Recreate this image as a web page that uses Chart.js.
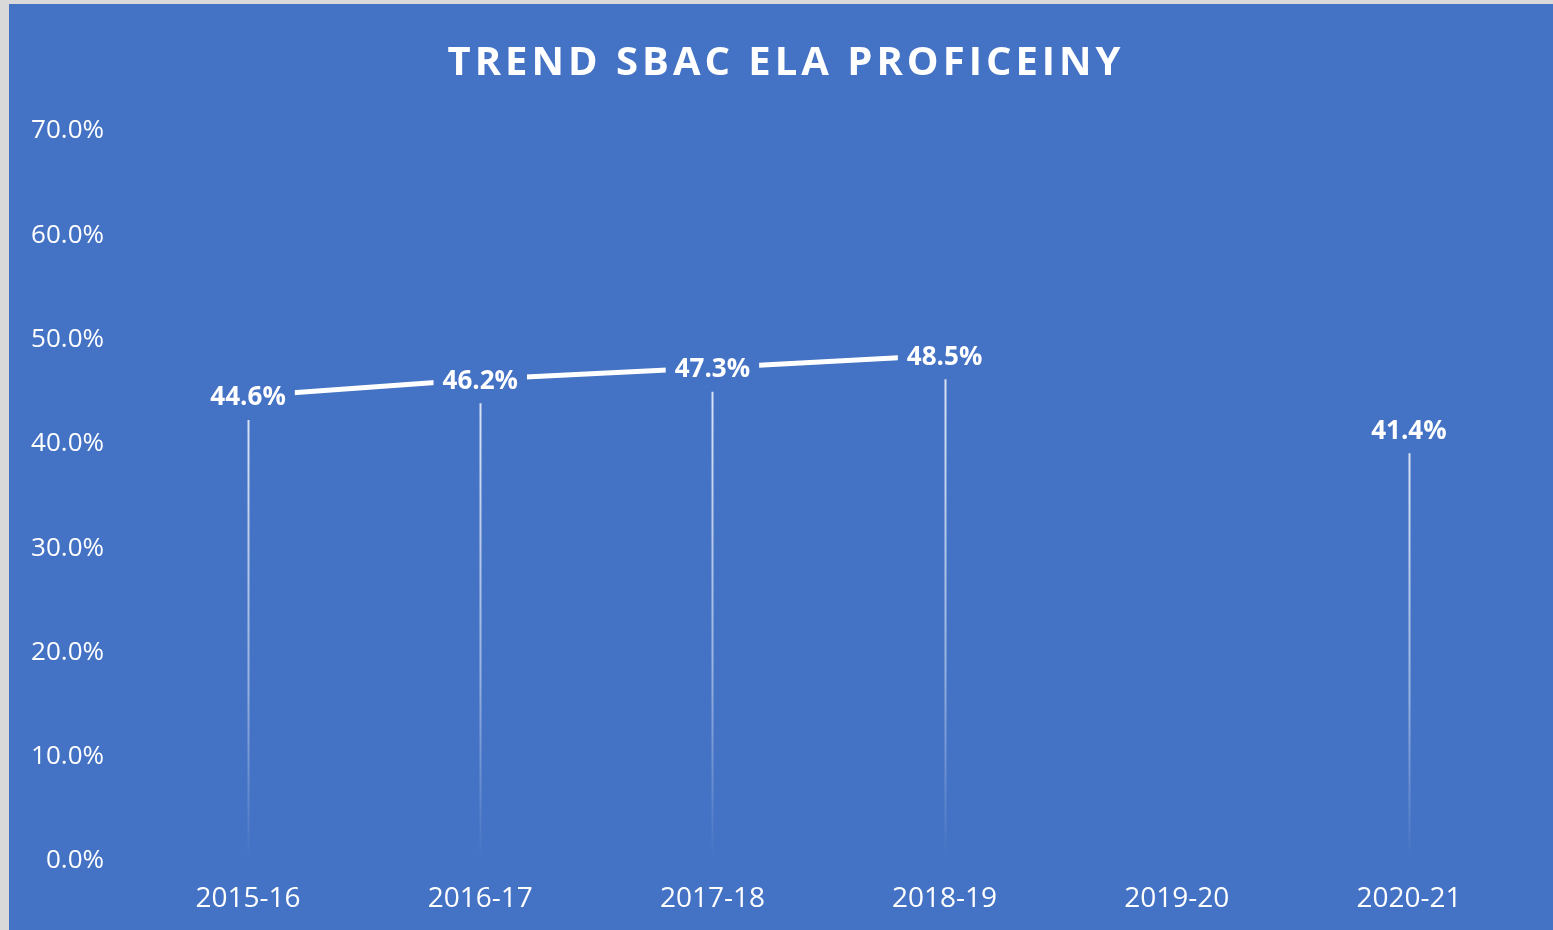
<!DOCTYPE html>
<html>
<head>
<meta charset="utf-8">
<script src="https://cdn.jsdelivr.net/npm/chart.js@4.4.1/dist/chart.umd.min.js"></script>
<style>
  html, body { margin: 0; padding: 0; background: #d9d9d9; width: 1553px; height: 930px; overflow: hidden; }
  #wrap { position: absolute; left: 9px; top: 4px; width: 1544px; height: 926px; background: #4472C4; }
  canvas { display: block; }
</style>
</head>
<body>
<div id="wrap"><canvas id="c" width="1544" height="926"></canvas></div>
<script>
const chartTitle = 'TREND SBAC ELA PROFICEINY';
const categories = ['2015-16', '2016-17', '2017-18', '2018-19', '2019-20', '2020-21'];
const proficiency = [44.6, 46.2, 47.3, 48.5, null, 41.4];
const yTicks = [0, 10, 20, 30, 40, 50, 60, 70];

const BG = '#4472C4';
const FONT = '"Open Sans", "Liberation Sans", sans-serif';

const dropLines = {
  id: 'dropLines',
  beforeDatasetsDraw(chart) {
    const ctx = chart.ctx;
    const meta = chart.getDatasetMeta(0);
    const bottom = chart.scales.y.getPixelForValue(0);
    ctx.save();
    meta.data.forEach((pt, i) => {
      if (proficiency[i] === null) return;
      const x = Math.round(pt.x) + 0.5;
      const top = pt.y + 24;
      const g = ctx.createLinearGradient(0, top, 0, bottom);
      g.addColorStop(0, 'rgba(255,255,255,0.8)');
      g.addColorStop(0.6, 'rgba(255,255,255,0.45)');
      g.addColorStop(1, 'rgba(255,255,255,0.0)');
      ctx.strokeStyle = g;
      ctx.lineWidth = 2;
      ctx.beginPath();
      ctx.moveTo(x, top);
      ctx.lineTo(x, bottom);
      ctx.stroke();
    });
    ctx.restore();
  }
};

const dataLabels = {
  id: 'dataLabels',
  afterDatasetsDraw(chart) {
    const ctx = chart.ctx;
    const meta = chart.getDatasetMeta(0);
    ctx.save();
    ctx.font = 'bold 26px ' + FONT;
    ctx.textAlign = 'center';
    ctx.textBaseline = 'middle';
    meta.data.forEach((pt, i) => {
      const v = proficiency[i];
      if (v === null) return;
      const txt = v.toFixed(1) + '%';
      const w = ctx.measureText(txt).width;
      const cy = pt.y + 2;
      ctx.fillStyle = BG;
      ctx.fillRect(pt.x - w / 2 - 9, cy - 20, w + 18, 40);
      ctx.fillStyle = '#ffffff';
      ctx.fillText(txt, pt.x, cy);
    });
    ctx.restore();
  }
};

const titlePlugin = {
  id: 'customTitle',
  afterDraw(chart) {
    const ctx = chart.ctx;
    ctx.save();
    ctx.font = 'bold 40px ' + FONT;
    ctx.letterSpacing = '4px';
    ctx.fillStyle = '#ffffff';
    ctx.textAlign = 'center';
    ctx.textBaseline = 'middle';
    ctx.fillText(chartTitle, 777, 60);
    ctx.restore();
  }
};

new Chart(document.getElementById('c'), {
  type: 'line',
  data: {
    labels: categories,
    datasets: [{
      data: proficiency,
      borderColor: '#ffffff',
      borderWidth: 5,
      pointRadius: 0,
      pointHoverRadius: 0,
      spanGaps: false,
      tension: 0,
      fill: false
    }]
  },
  options: {
    responsive: false,
    animation: false,
    events: [],
    layout: { padding: { top: 127, right: 28, bottom: 18, left: 0 } },
    plugins: {
      legend: { display: false },
      title: { display: false },
      tooltip: { enabled: false }
    },
    scales: {
      x: {
        offset: true,
        afterFit(scale) { scale.height = 51; },
        grid: { display: false, drawTicks: false },
        border: { display: false },
        ticks: { color: '#ffffff', font: { family: FONT, size: 28 }, padding: 21, maxRotation: 0 }
      },
      y: {
        min: 0,
        max: 70,
        afterFit(scale) { scale.width = 123; },
        afterBuildTicks(scale) { scale.ticks = yTicks.map(v => ({ value: v })); },
        grid: { display: false, drawTicks: false },
        border: { display: false },
        ticks: {
          color: '#ffffff',
          font: { family: FONT, size: 26 },
          padding: 28,
          callback: v => v.toFixed(1) + '%'
        }
      }
    }
  },
  plugins: [dropLines, dataLabels, titlePlugin]
});
</script>
</body>
</html>
